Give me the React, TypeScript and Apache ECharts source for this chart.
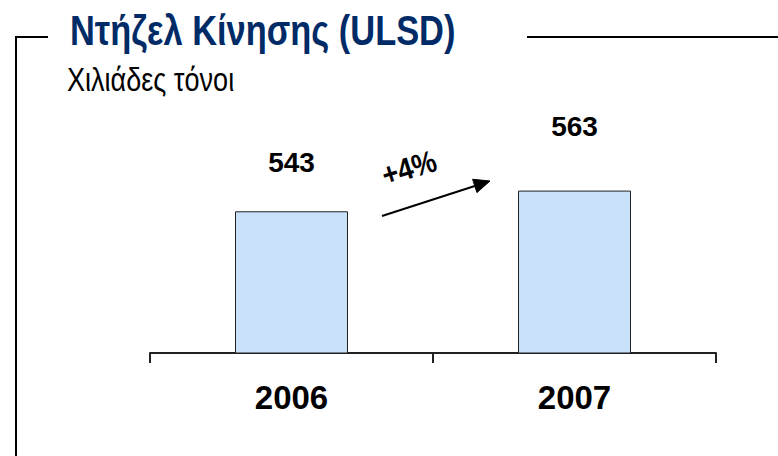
import React, { useEffect, useRef } from "react";
import * as echarts from "echarts";

const titleText = "Ντήζελ Κίνησης (ULSD)";
const subtitleText = "Χιλιάδες τόνοι";
const categories = ["2006", "2007"];
const values = [543, 563];
const changeLabel = "+4%";

const FONT = "'Liberation Sans', Arial, sans-serif";

export default function App() {
  const ref = useRef<HTMLDivElement>(null);
  useEffect(() => {
    document.body.style.margin = "0";
    if (!ref.current) return;
    const chart = echarts.init(ref.current, null, { renderer: "svg" });
    const labelDistances = [35, 50];
    // arrow geometry
    const sx = 382, sy = 216, tx = 490, ty = 181;
    const dx = tx - sx, dy = ty - sy;
    const len = Math.sqrt(dx * dx + dy * dy);
    const ux = dx / len, uy = dy / len;
    const nx = -uy, ny = ux;
    const hl = 16, hw = 7;
    const bx = tx - hl * ux, by = ty - hl * uy;
    chart.setOption({
      animation: false,
      backgroundColor: "#ffffff",
      grid: { left: 150, right: 62, top: 143, bottom: 103 },
      xAxis: {
        type: "category",
        data: categories,
        boundaryGap: true,
        axisLine: { show: true, lineStyle: { color: "#222", width: 2 } },
        axisTick: { show: true, length: 10, lineStyle: { color: "#222", width: 2 } },
        axisLabel: {
          margin: 28,
          color: "#000",
          fontSize: 33,
          fontWeight: "bold",
          fontFamily: FONT,
        },
      },
      yAxis: { type: "value", min: 406, max: 609, show: false, splitLine: { show: false } },
      series: [
        {
          type: "bar",
          barWidth: 113,
          data: values.map((v, i) => ({ value: v, label: { distance: labelDistances[i] } })),
          itemStyle: { color: "#c8e1f9", borderColor: "#222", borderWidth: 1 },
          label: {
            show: true,
            position: "top",
            color: "#000",
            fontSize: 28,
            fontWeight: "bold",
            fontFamily: FONT,
          },
        },
      ],
      graphic: [
        {
          type: "polyline",
          shape: { points: [[16, 456], [16, 37], [48, 37]] },
          style: { stroke: "#000", lineWidth: 2, fill: null },
        },
        {
          type: "line",
          shape: { x1: 527, y1: 37, x2: 778, y2: 37 },
          style: { stroke: "#000", lineWidth: 2 },
        },
        {
          type: "text",
          x: 70,
          y: 30,
          scaleX: 0.82,
          style: {
            text: titleText,
            fill: "#002b66",
            font: `bold 42px ${FONT}`,
            verticalAlign: "middle",
            align: "left",
          },
        },
        {
          type: "text",
          x: 67,
          y: 80,
          scaleX: 0.82,
          style: {
            text: subtitleText,
            fill: "#000",
            font: `33px ${FONT}`,
            verticalAlign: "middle",
            align: "left",
          },
        },
        {
          type: "line",
          shape: { x1: sx, y1: sy, x2: bx, y2: by },
          style: { stroke: "#000", lineWidth: 2 },
        },
        {
          type: "polygon",
          shape: {
            points: [
              [tx, ty],
              [bx + hw * nx, by + hw * ny],
              [bx - hw * nx, by - hw * ny],
            ],
          },
          style: { fill: "#000", stroke: "#000", lineWidth: 1 },
        },
        {
          type: "text",
          x: 409,
          y: 168,
          rotation: 0.3,
          scaleX: 0.88,
          style: {
            text: changeLabel,
            fill: "#000",
            font: `bold 31px ${FONT}`,
            verticalAlign: "middle",
            align: "center",
          },
        },
      ],
    });
    return () => chart.dispose();
  }, []);
  return <div ref={ref} style={{ width: 778, height: 456 }} />;
}
